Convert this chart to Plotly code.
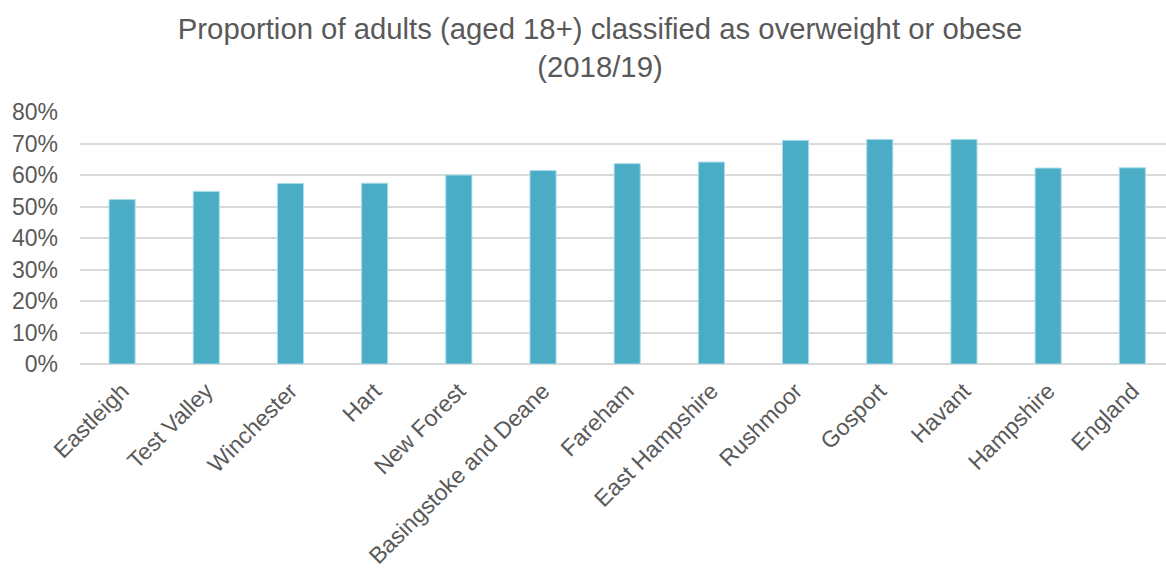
import plotly.graph_objects as go

categories = ["Eastleigh", "Test Valley", "Winchester", "Hart", "New Forest",
              "Basingstoke and Deane", "Fareham", "East Hampshire", "Rushmoor",
              "Gosport", "Havant", "Hampshire", "England"]
values = [0.522, 0.548, 0.573, 0.574, 0.600, 0.614, 0.636, 0.641, 0.710,
          0.713, 0.713, 0.622, 0.623]
y_ticks = [0, 0.1, 0.2, 0.3, 0.4, 0.5, 0.6, 0.7, 0.8]
y_tick_labels = ["0%", "10%", "20%", "30%", "40%", "50%", "60%", "70%", "80%"]
title_text = "Proportion of adults (aged 18+) classified as overweight or obese<br>(2018/19)"

grey = "#595959"
font_family = "Liberation Sans, Arial, sans-serif"

fig = go.Figure(go.Bar(
    x=categories, y=values,
    marker=dict(color="#4BACC6", line=dict(color="#A9DCEA", width=1)),
    width=0.31,
))

fig.update_layout(
    width=1166, height=571,
    margin=dict(l=80, r=0, t=112, b=207, pad=0),
    paper_bgcolor="white", plot_bgcolor="white",
    showlegend=False,
    title=dict(text=title_text, x=600 / 1166, xanchor="center", xref="container",
               y=1 - 39 / 571, yanchor="middle", yref="container",
               font=dict(family=font_family, size=29.3, color=grey)),
    font=dict(family=font_family, color=grey),
)
fig.update_xaxes(
    type="category", range=[-0.5, 12.4], tickangle=-45, automargin=False,
    tickfont=dict(size=23, color=grey, family=font_family),
    showgrid=False, showline=False, ticks="", ticklabelstandoff=8,
)
fig.update_yaxes(
    range=[0, 0.8], tickvals=y_ticks, ticktext=y_tick_labels, automargin=False,
    tickfont=dict(size=23, color=grey, family=font_family),
    showgrid=True, gridcolor="#D9D9D9", gridwidth=1.5,
    zeroline=True, zerolinecolor="#D9D9D9", zerolinewidth=1.5,
    showline=False, ticks="", ticklabelstandoff=21,
)

fig.write_html("out.html")
